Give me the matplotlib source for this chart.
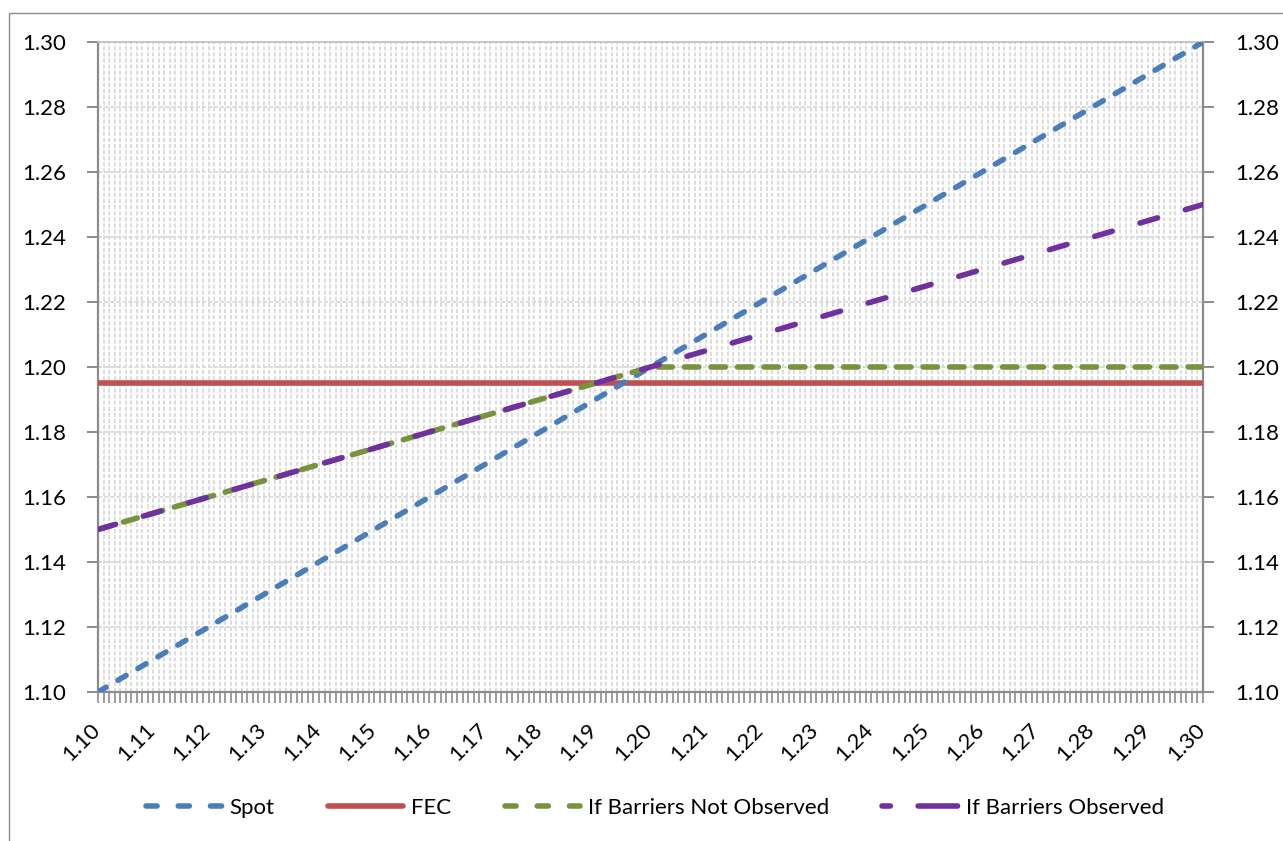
import matplotlib
matplotlib.use("Agg")
import matplotlib.pyplot as plt
from matplotlib.patches import Rectangle
from matplotlib.lines import Line2D
from matplotlib.ticker import MultipleLocator, FixedLocator
import matplotlib.transforms as mtrans

plt.rcParams['font.family'] = ['Lato', 'DejaVu Sans']
plt.rcParams['lines.scale_dashes'] = False

# Data (read at each 0.01 step)
x_vals = [1.10, 1.11, 1.12, 1.13, 1.14, 1.15, 1.16, 1.17, 1.18, 1.19, 1.20,
          1.21, 1.22, 1.23, 1.24, 1.25, 1.26, 1.27, 1.28, 1.29, 1.30]
spot = [1.10, 1.11, 1.12, 1.13, 1.14, 1.15, 1.16, 1.17, 1.18, 1.19, 1.20,
        1.21, 1.22, 1.23, 1.24, 1.25, 1.26, 1.27, 1.28, 1.29, 1.30]
fec = [1.195] * 21
not_observed = [1.150, 1.155, 1.160, 1.165, 1.170, 1.175, 1.180, 1.185, 1.190, 1.195, 1.200,
                1.200, 1.200, 1.200, 1.200, 1.200, 1.200, 1.200, 1.200, 1.200, 1.200]
observed = [1.150, 1.155, 1.160, 1.165, 1.170, 1.175, 1.180, 1.185, 1.190, 1.195, 1.200,
            1.205, 1.210, 1.215, 1.220, 1.225, 1.230, 1.235, 1.240, 1.245, 1.250]
tick_labels = ["%.2f" % v for v in x_vals]
y_ticks = [1.10, 1.12, 1.14, 1.16, 1.18, 1.20, 1.22, 1.24, 1.26, 1.28, 1.30]

W, H = 1283, 841
fig = plt.figure(figsize=(W / 100, H / 100), dpi=100)
ax = fig.add_axes([98 / W, 1 - 692 / H, (1203 - 98) / W, (692 - 42) / H])

# outer chart frame
fig.patches.append(Rectangle((9 / W, -0.2), 2.0, 1.2 - 13 / H, transform=fig.transFigure,
                             fill=False, edgecolor='#8c8c8c', linewidth=1.0, clip_on=False))

# gridlines
grid_col = '#dcdcdc'
for i in range(201):
    xv = 1.10 + i * 0.001
    ax.axvline(xv, color=grid_col, linewidth=1.4, dashes=(3.0, 1.4), zorder=0.5)
for yv in y_ticks:
    ax.axhline(yv, color=grid_col, linewidth=1.4, dashes=(3.0, 1.4), zorder=0.6)

lw = 4.0
c_spot, c_fec, c_no, c_obs = '#4a7ebb', '#c0504d', '#77933c', '#7030a0'
d_spot, d_no, d_obs = (6.8, 9.86), (10.4, 8.69), (13.2, 20.8)
ax.plot(x_vals, fec, color=c_fec, linewidth=lw, solid_capstyle='butt', zorder=3)
ax.plot(x_vals, spot, color=c_spot, linewidth=lw, dash_capstyle='round', dashes=d_spot, zorder=4)
ax.plot(x_vals, not_observed, color=c_no, linewidth=lw, dash_capstyle='round', dashes=d_no, zorder=4)
ax.plot(x_vals, observed, color=c_obs, linewidth=lw, dash_capstyle='round', dashes=d_obs, zorder=5)

ax.set_xlim(1.10, 1.30)
ax.set_ylim(1.10, 1.30)

spine_col = '#8c8c8c'
for s in ['left', 'right', 'bottom']:
    ax.spines[s].set_color(spine_col)
    ax.spines[s].set_linewidth(1.6)
ax.spines['top'].set_color('#bfbfbf')
ax.spines['top'].set_linewidth(1.2)

ax.set_yticks(y_ticks)
ax.set_yticklabels(["%.2f" % v for v in y_ticks])
ax.tick_params(axis='y', which='major', direction='out', length=8, width=1.4, color=spine_col,
               labelsize=16, pad=15, left=True, right=True, labelleft=True, labelright=True)

ax.xaxis.set_major_locator(FixedLocator(x_vals))
ax.set_xticklabels(tick_labels, rotation=45, ha='right', va='top')
ax.xaxis.set_minor_locator(MultipleLocator(0.001))
ax.tick_params(axis='x', which='major', direction='out', length=8, width=1.2, color=spine_col,
               labelsize=16, pad=12)
ax.tick_params(axis='x', which='minor', direction='out', length=8, width=1.2, color=spine_col)
ax.tick_params(axis='y', which='minor', left=False, right=False)
off = mtrans.ScaledTranslation(6 / 100, 0, fig.dpi_scale_trans)
for lab in ax.get_xticklabels():
    lab.set_transform(lab.get_transform() + off)

# legend proxies
h_spot = Line2D([], [], color=c_spot, linewidth=lw, dash_capstyle='round', linestyle=(0, (8.0, 15.2)))
h_fec = Line2D([], [], color=c_fec, linewidth=lw, solid_capstyle='round')
h_no = Line2D([], [], color=c_no, linewidth=lw, dash_capstyle='round', linestyle=(0, (8.0, 15.2)))
h_obs = Line2D([], [], color=c_obs, linewidth=lw, dash_capstyle='round', linestyle=(22.4, (28.4, 20.0)))
leg = fig.legend([h_spot, h_fec, h_no, h_obs],
                 ['Spot', 'FEC', 'If Barriers Not Observed', 'If Barriers Observed'],
                 loc='center', bbox_to_anchor=(655 / W, 1 - 808 / H), ncol=4, frameon=False,
                 fontsize=16, handlelength=3.4, handletextpad=0.35, columnspacing=2.4)

fig.savefig('out.png', dpi=100)
